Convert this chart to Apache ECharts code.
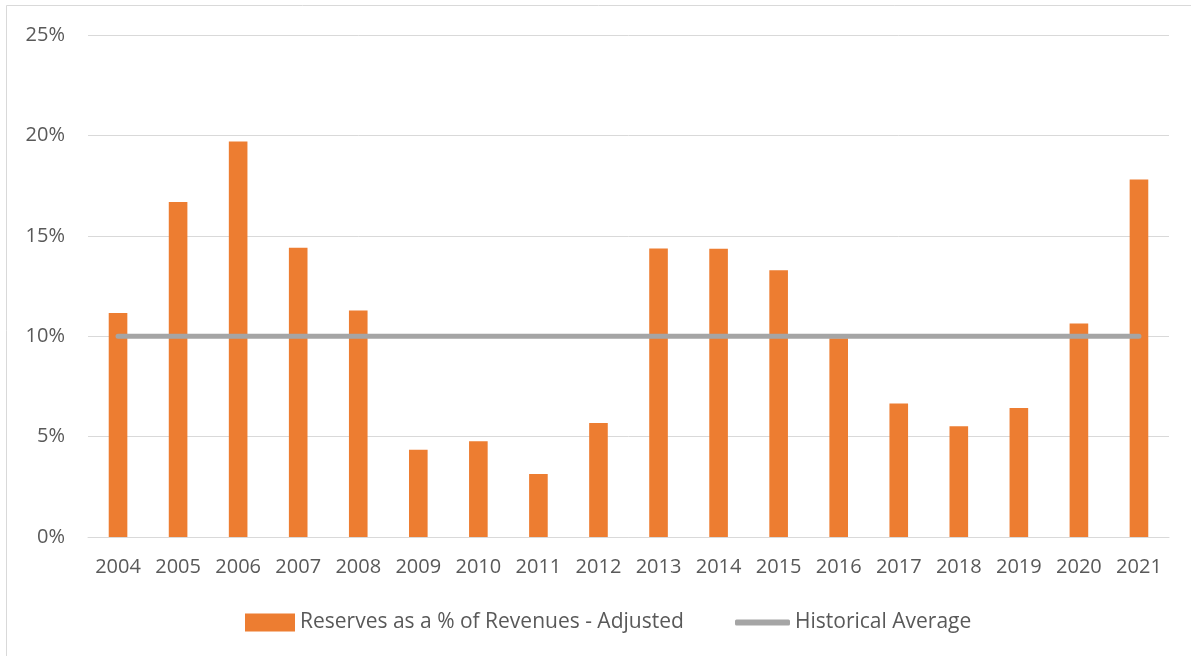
<!DOCTYPE html>
<html>
<head>
<meta charset="utf-8">
<script src="https://cdn.jsdelivr.net/npm/echarts@6/dist/echarts.min.js"></script>
<style>html,body{margin:0;padding:0;background:#fff;}#c{width:1191px;height:656px;}</style>
</head>
<body>
<div id="c"></div>
<script>
const categories = ['2004','2005','2006','2007','2008','2009','2010','2011','2012','2013','2014','2015','2016','2017','2018','2019','2020','2021'];
const reserves = [11.15, 16.68, 19.7, 14.4, 11.28, 4.34, 4.77, 3.14, 5.68, 14.37, 14.36, 13.28, 9.9, 6.65, 5.52, 6.42, 10.63, 17.8];
const historicalAverage = [10, 10, 10, 10, 10, 10, 10, 10, 10, 10, 10, 10, 10, 10, 10, 10, 10, 10];
const yTicks = [0, 5, 10, 15, 20, 25];

const font = 'Open Sans';
const chart = echarts.init(document.getElementById('c'), null, {renderer: 'canvas'});
chart.setOption({
  animation: false,
  backgroundColor: '#fff',
  graphic: [{
    type: 'polyline', z: -1,
    shape: {points: [[6.5, 656], [6.5, 5.5], [1191, 5.5]]},
    style: {fill: 'none', stroke: '#D9D9D9', lineWidth: 1}
  }],
  grid: {left: 88, right: 22, top: 35, bottom: 119},
  legend: [{
    data: [{name: 'Reserves as a % of Revenues - Adjusted', icon: 'rect'}],
    left: 245, top: 612, padding: 0, itemWidth: 50, itemHeight: 18, itemGap: 4,
    textStyle: {color: '#595959', fontSize: 21, fontFamily: font}
  }, {
    data: [{name: 'Historical Average', icon: 'roundRect'}],
    left: 735, top: 612, padding: 0, itemWidth: 55, itemHeight: 6, itemGap: 2,
    textStyle: {color: '#595959', fontSize: 21, fontFamily: font}
  }],
  xAxis: {
    type: 'category', data: categories, boundaryGap: true,
    axisLine: {show: true, lineStyle: {color: '#D9D9D9', width: 1}},
    axisTick: {show: false},
    axisLabel: {color: '#595959', fontSize: 20, fontFamily: font, margin: 20}
  },
  yAxis: {
    type: 'value', min: 0, max: 25, interval: 5,
    axisLine: {show: false}, axisTick: {show: false},
    splitLine: {lineStyle: {color: '#D9D9D9', width: 1}},
    axisLabel: {
      color: '#595959', fontSize: 20, fontFamily: font, margin: 23,
      formatter: v => yTicks.includes(v) ? v + '%' : ''
    }
  },
  series: [{
    name: 'Reserves as a % of Revenues - Adjusted',
    type: 'bar', data: reserves, barWidth: '31%',
    itemStyle: {color: '#ED7D31'}
  }, {
    name: 'Historical Average',
    type: 'line', data: historicalAverage, showSymbol: false, symbol: 'none',
    lineStyle: {color: '#A5A5A5', width: 5, cap: 'round'},
    itemStyle: {color: '#A5A5A5'}, z: 3
  }]
});
</script>
</body>
</html>
